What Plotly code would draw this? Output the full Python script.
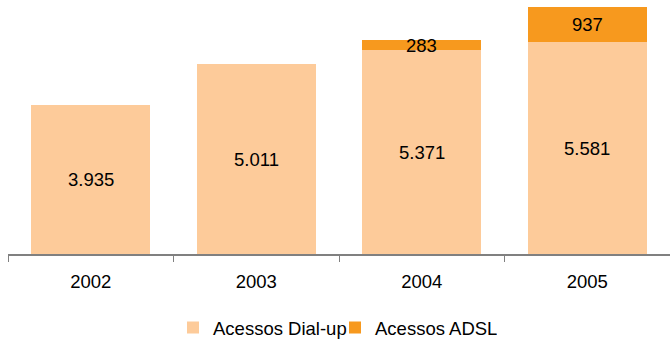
import plotly.graph_objects as go

years = ["2002", "2003", "2004", "2005"]
dialup = [3935, 5011, 5371, 5581]
adsl = [0, 0, 283, 937]
dialup_labels = ["3.935", "5.011", "5.371", "5.581"]
adsl_labels = ["", "", "283", "937"]

c_dial = "#FDCB9A"
c_adsl = "#F7991E"
font = "Liberation Sans, Arial, sans-serif"
fs = 18.5

fig = go.Figure()
fig.add_trace(go.Bar(x=years, y=dialup, name="Acessos Dial-up", marker_color=c_dial,
                     marker_line_width=0))
fig.add_trace(go.Bar(x=years, y=adsl, name="Acessos ADSL", marker_color=c_adsl,
                     marker_line_width=0))

for i, yr in enumerate(years):
    fig.add_annotation(x=i, y=dialup[i] / 2, text=dialup_labels[i], showarrow=False,
                       font=dict(size=fs, color="black", family=font))
    if adsl[i] > 0:
        fig.add_annotation(x=i, y=dialup[i] + adsl[i] / 2, text=adsl_labels[i], showarrow=False,
                           font=dict(size=fs, color="black", family=font))

fig.update_layout(
    barmode="stack",
    bargap=0.28,
    width=670, height=342,
    margin=dict(l=8, r=0, t=0, b=88),
    paper_bgcolor="white", plot_bgcolor="white",
    font=dict(family=font, size=fs, color="black"),
    showlegend=True,
    legend=dict(orientation="h", xref="container", yref="container",
                x=0.5, xanchor="center", y=0.041, yanchor="middle",
                font=dict(size=fs), traceorder="normal", itemwidth=30,
                entrywidth=117),
    xaxis=dict(type="category", showline=True, linecolor="#808080", linewidth=1.5,
               ticks="outside", tickson="boundaries", ticklen=6, tickcolor="#808080",
               tickfont=dict(size=fs), showgrid=False, tickangle=0, automargin=False,
               ticklabelstandoff=10),
    yaxis=dict(range=[0, 6700], visible=False, showgrid=False, automargin=False),
)
fig.write_html("out.html")
